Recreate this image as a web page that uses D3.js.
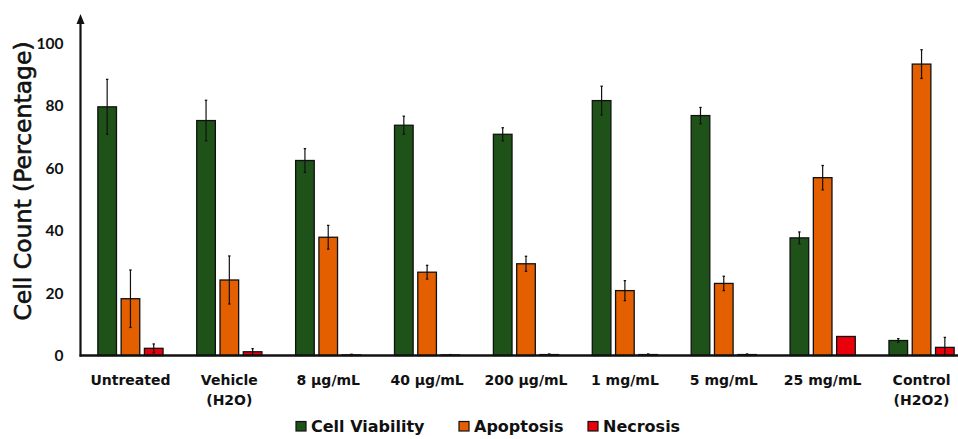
<!DOCTYPE html>
<html>
<head>
<meta charset="utf-8">
<script src="https://cdn.jsdelivr.net/npm/d3@7"></script>
<style>
  html, body { margin: 0; padding: 0; background: #fff; }
  svg { display: block; }
  text { font-family: "DejaVu Sans", sans-serif; fill: #111; }
</style>
</head>
<body>
<svg id="chart" width="958" height="439"></svg>
<script>
// Treatment groups (two-line labels split on "\n")
const categories = ["Untreated", "Vehicle\n(H2O)", "8 µg/mL", "40 µg/mL", "200 µg/mL",
                    "1 mg/mL", "5 mg/mL", "25 mg/mL", "Control\n(H2O2)"];
const seriesNames = ["Cell Viability", "Apoptosis", "Necrosis"];
const seriesColors = ["#1e5219", "#e35f00", "#e8000b"];

// Mean percentages per group
const viability = [79.7, 75.3, 62.5, 73.8, 70.9, 81.7, 76.9, 37.7, 4.8];
const apoptosis = [18.2, 24.2, 37.9, 26.7, 29.4, 20.8, 23.1, 57.0, 93.4];
const necrosis  = [2.3, 1.2, 0.2, 0.2, 0.3, 0.3, 0.3, 6.1, 2.6];

// Error (± standard deviation)
const viabilityErr = [8.8, 6.5, 3.8, 2.9, 2.1, 4.6, 2.6, 1.9, 0.6];
const apoptosisErr = [9.2, 7.7, 3.8, 2.2, 2.4, 3.2, 2.3, 3.9, 4.6];
const necrosisErr  = [1.4, 1.0, 0.2, 0.1, 0.2, 0.2, 0.2, 0.0, 3.2];

const yTicks = [0, 20, 40, 60, 80, 100];

const values = [viability, apoptosis, necrosis];
const errors = [viabilityErr, apoptosisErr, necrosisErr];

const svg = d3.select("#chart");
const axisX = 80.5;

const x0 = d3.scaleBand().domain(categories).range([81, 971]).padding(0);
const x1 = d3.scaleBand().domain(seriesNames).range([-32.6, 32.6]).paddingInner(0.2).paddingOuter(0);
const y = d3.scaleLinear().domain([0, 100]).range([355.5, 43.5]);

// Bars and error bars
const groups = svg.append("g").selectAll("g")
  .data(categories)
  .join("g")
  .attr("transform", d => `translate(${x0(d) + x0.bandwidth() / 2},0)`);

seriesNames.forEach((name, si) => {
  groups.append("rect")
    .attr("x", x1(name))
    .attr("width", x1.bandwidth())
    .attr("y", (d, i) => y(values[si][i]))
    .attr("height", (d, i) => y(0) - y(values[si][i]))
    .attr("fill", seriesColors[si])
    .attr("stroke", "#111")
    .attr("stroke-width", 1.3);
});

seriesNames.forEach((name, si) => {
  const cx = x1(name) + x1.bandwidth() / 2;
  groups.each(function (d, i) {
    const e = errors[si][i];
    if (e <= 0) return;
    const v = values[si][i];
    const g = d3.select(this);
    g.append("line")
      .attr("x1", cx).attr("x2", cx)
      .attr("y1", y(v + e)).attr("y2", y(Math.max(0, v - e)))
      .attr("stroke", "#111").attr("stroke-width", 1.2);
    [v + e, Math.max(0, v - e)].forEach(t => {
      g.append("line")
        .attr("x1", cx - 1.2).attr("x2", cx + 1.2)
        .attr("y1", y(t)).attr("y2", y(t))
        .attr("stroke", "#111").attr("stroke-width", 1.3);
    });
  });
});

// Y axis with arrow head
const yAxis = d3.axisLeft(y).tickValues(yTicks).tickSize(0).tickPadding(17);
const gy = svg.append("g").attr("transform", `translate(${axisX},0)`).call(yAxis);
gy.select(".domain").remove();
gy.selectAll("text")
  .style("font-size", "15.5px")
  .style("font-weight", "700")
  .style("font-family", "Lato, sans-serif")
  .attr("fill", "#111");

svg.append("line")
  .attr("x1", axisX).attr("x2", axisX)
  .attr("y1", y(0) + 1).attr("y2", 22)
  .attr("stroke", "#111").attr("stroke-width", 2.2);
svg.append("path")
  .attr("d", `M${axisX - 4},24 L${axisX},14 L${axisX + 4},24 Z`)
  .attr("fill", "#111");

// X baseline
const xAxis = d3.axisBottom(x0).tickSize(0).tickFormat("");
const gx = svg.append("g").attr("transform", `translate(0,${y(0)})`).call(xAxis);
gx.select(".domain").remove();
svg.append("line")
  .attr("x1", axisX - 1).attr("x2", 958)
  .attr("y1", y(0)).attr("y2", y(0))
  .attr("stroke", "#111").attr("stroke-width", 2.4);

// Category labels
categories.forEach(c => {
  const lines = c.split("\n");
  const cx = x0(c) + x0.bandwidth() / 2;
  const t = svg.append("text")
    .attr("x", cx)
    .attr("y", 385)
    .attr("text-anchor", "middle")
    .style("font-size", "14px")
    .style("font-weight", "700");
  lines.forEach((l, k) => {
    t.append("tspan")
      .attr("x", cx)
      .attr("dy", k === 0 ? 0 : 20)
      .text(l);
  });
});

// Y axis title
svg.append("text")
  .attr("transform", "translate(31,181) rotate(-90)")
  .attr("text-anchor", "middle")
  .style("font-size", "23.5px")
  .attr("stroke", "#111")
  .attr("stroke-width", 0.6)
  .text("Cell Count (Percentage)");

// Legend
const legendX = [296, 459, 588];
const legend = svg.append("g");
seriesNames.forEach((name, si) => {
  legend.append("rect")
    .attr("x", legendX[si]).attr("y", 421.5)
    .attr("width", 10).attr("height", 9.5)
    .attr("fill", seriesColors[si])
    .attr("stroke", "#111").attr("stroke-width", 1.2);
  legend.append("text")
    .attr("x", legendX[si] + 15).attr("y", 431.5)
    .style("font-size", "16px")
    .style("font-weight", "700")
    .text(name);
});
</script>
</body>
</html>
